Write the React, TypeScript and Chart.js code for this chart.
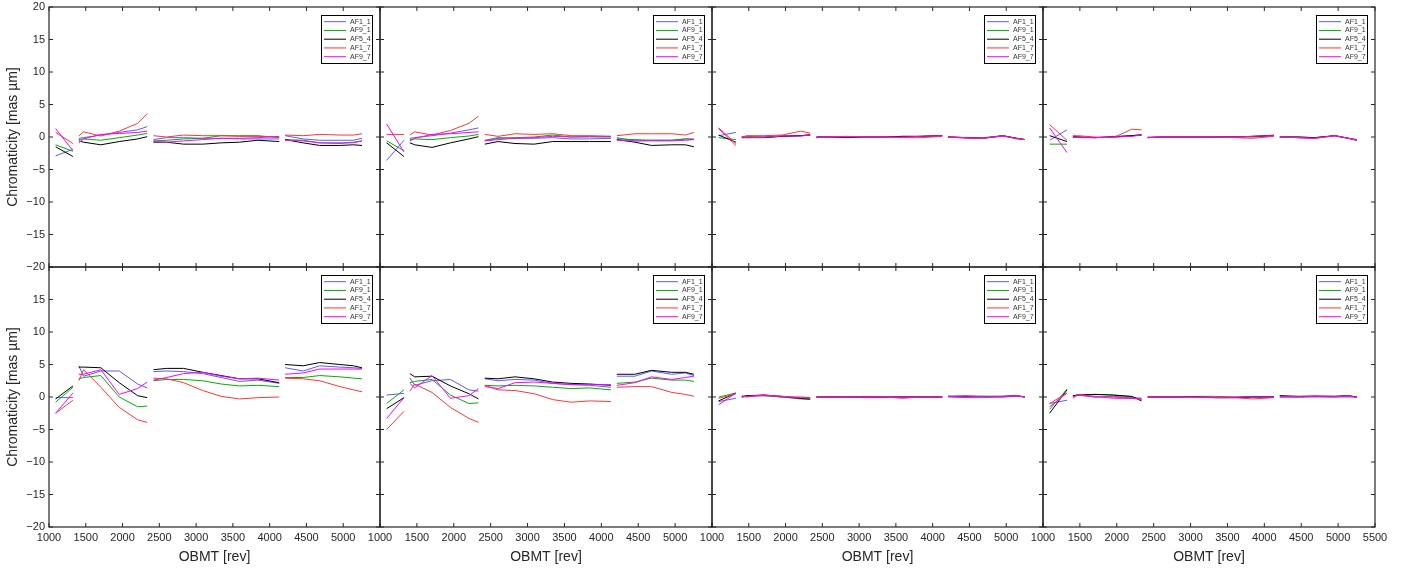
import { useEffect, useRef } from "react";
import Chart from "chart.js/auto";

// OBMT sample positions, with a gap marker between the four observation blocks (y = null there)
const OBMT = [1090, 1325, 1362, 1405, 1470, 1705, 1955, 2205, 2335, 2378, 2420, 2600, 2830, 3090, 3340, 3590, 3840, 4130, 4170, 4210, 4455, 4680, 4955, 5140, 5255];

const SERIES = ["AF1_1", "AF9_1", "AF5_4", "AF1_7", "AF9_7"];
const COLORS = ["#5a5aff", "#00b000", "#000000", "#ff3535", "#ff00ff"];

// top row
const p1_af1_1 = [-2.9, -1.9, null, -0.2, -0.1, 0.3, 0.7, 1.1, 1.6, null, -0.4, -0.1, -0.1, -0.2, -0.2, -0.3, -0.3, -0.3, null, 0.2, -0.3, -0.5, -0.5, -0.5, -0.2];
const p1_af9_1 = [-1.2, -2.2, null, -0.4, -0.3, -0.5, -0.1, 0.3, 0.55, null, -0.6, -0.5, -0.3, -0.2, 0.2, 0.2, 0.2, -0.1, null, -0.4, -0.5, -0.9, -1.0, -0.8, -0.6];
const p1_af5_4 = [-1.5, -3.0, null, -0.6, -0.8, -1.2, -0.7, -0.3, 0.05, null, -0.8, -0.8, -1.1, -1.1, -0.9, -0.8, -0.5, -0.7, null, -0.4, -0.9, -1.3, -1.3, -1.2, -1.3];
const p1_af1_7 = [0.7, -1.0, null, 0.15, 0.8, 0.15, 0.9, 2.1, 3.6, null, 0.2, 0.0, 0.3, 0.2, 0.2, 0.1, 0.1, 0.0, null, 0.3, 0.2, 0.4, 0.3, 0.3, 0.5];
const p1_af9_7 = [1.3, -2.1, null, -0.9, -0.3, 0.4, 0.55, 0.7, 0.9, null, -0.7, -0.8, -0.6, -0.4, -0.2, -0.2, -0.1, 0.1, null, -0.5, -0.6, -0.9, -0.9, -0.9, -0.6];

const p2_af1_1 = [-3.6, -0.5, null, -0.2, -0.1, 0.2, 0.6, 1.1, 1.4, null, -0.5, -0.1, -0.2, -0.2, -0.1, -0.3, -0.3, -0.2, null, -0.1, -0.6, -0.5, -0.5, -0.3, -0.4];
const p2_af9_1 = [-0.6, -2.1, null, -0.4, -0.3, -0.4, -0.1, 0.15, 0.4, null, -0.6, -0.2, -0.1, 0.0, 0.3, 0.0, 0.0, 0.0, null, -0.3, -0.4, -0.5, -0.5, -0.3, -0.3];
const p2_af5_4 = [-0.9, -3.0, null, -0.9, -1.2, -1.6, -0.9, -0.3, 0.05, null, -1.1, -0.7, -1.0, -1.1, -0.7, -0.7, -0.7, -0.7, null, -0.4, -0.8, -1.3, -1.2, -1.2, -1.5];
const p2_af1_7 = [0.4, 0.4, null, 0.3, 0.8, 0.3, 1.0, 2.1, 3.2, null, 0.4, 0.1, 0.5, 0.4, 0.5, 0.2, 0.2, 0.1, null, 0.2, 0.5, 0.5, 0.5, 0.3, 0.7];
const p2_af9_7 = [2.0, -2.3, null, -0.6, -0.2, 0.4, 0.5, 0.7, 0.8, null, -0.6, -0.4, -0.2, -0.1, 0.1, 0.0, 0.1, 0.1, null, -0.5, -0.6, -0.6, -0.6, -0.5, -0.4];

const p3_af1_1 = [0.2, 0.7, null, 0.0, 0.0, 0.0, 0.2, 0.2, 0.4, null, 0.0, 0.0, 0.0, 0.0, 0.0, 0.1, 0.1, 0.2, null, 0.0, -0.1, -0.2, 0.15, -0.2, -0.4];
const p3_af9_1 = [-0.1, -0.4, null, 0.0, 0.1, 0.0, 0.1, 0.2, 0.3, null, -0.1, 0.0, 0.0, 0.0, 0.0, 0.0, 0.1, 0.2, null, 0.0, -0.1, -0.1, 0.2, -0.2, -0.4];
const p3_af5_4 = [0.3, -0.8, null, -0.1, -0.1, -0.1, 0.1, 0.2, 0.3, null, 0.0, 0.0, -0.1, 0.0, 0.0, 0.1, 0.1, 0.2, null, 0.0, -0.1, -0.2, 0.2, -0.2, -0.4];
const p3_af1_7 = [1.4, -1.0, null, 0.0, 0.2, 0.2, 0.3, 0.9, 0.6, null, -0.1, 0.0, 0.1, 0.0, 0.0, -0.1, -0.1, 0.1, null, 0.0, -0.2, -0.2, 0.2, -0.3, -0.4];
const p3_af9_7 = [1.3, -1.3, null, 0.0, -0.1, -0.05, 0.15, 0.15, 0.3, null, -0.1, 0.0, 0.0, 0.0, 0.0, 0.0, 0.1, 0.2, null, 0.0, -0.1, -0.2, 0.15, -0.2, -0.4];

const p4_af1_1 = [-0.5, 1.1, null, 0.1, 0.0, -0.1, 0.1, 0.2, 0.4, null, -0.1, 0.0, 0.0, 0.0, 0.0, 0.0, 0.1, 0.3, null, 0.0, -0.1, -0.2, 0.2, -0.2, -0.5];
const p4_af9_1 = [-1.1, -1.1, null, 0.0, -0.05, -0.1, 0.0, 0.2, 0.3, null, -0.1, 0.0, 0.0, 0.0, 0.0, 0.0, 0.0, 0.2, null, 0.0, 0.0, -0.1, 0.2, -0.2, -0.4];
const p4_af5_4 = [0.2, -0.7, null, 0.0, 0.0, -0.1, 0.0, 0.2, 0.3, null, -0.1, 0.0, 0.0, 0.0, 0.0, 0.0, 0.1, 0.2, null, 0.0, 0.0, -0.1, 0.2, -0.2, -0.5];
const p4_af1_7 = [1.9, -0.5, null, 0.2, 0.2, 0.0, -0.1, 1.2, 1.1, null, 0.0, 0.0, 0.0, 0.0, 0.0, -0.1, -0.2, 0.1, null, 0.0, -0.1, -0.2, 0.2, -0.2, -0.4];
const p4_af9_7 = [1.4, -2.4, null, 0.0, -0.1, -0.1, 0.0, 0.1, 0.3, null, -0.1, 0.0, 0.0, 0.0, 0.0, 0.0, 0.1, 0.2, null, 0.0, -0.1, -0.2, 0.2, -0.2, -0.5];

// bottom row
const p5_af1_1 = [-0.1, -0.1, null, 4.8, 3.2, 4.0, 4.0, 2.0, 1.4, null, 3.9, 4.0, 3.9, 3.6, 3.0, 2.4, 2.6, 2.1, null, 4.5, 4.0, 4.8, 4.6, 4.5, 4.4];
const p5_af9_1 = [-0.8, 1.5, null, 2.8, 3.0, 3.3, 0.0, -1.5, -1.4, null, 2.5, 2.7, 2.7, 2.5, 2.0, 1.7, 1.8, 1.6, null, 3.0, 3.0, 3.3, 3.1, 2.9, 2.8];
const p5_af5_4 = [-0.3, 1.7, null, 4.6, 4.6, 4.5, 2.2, 0.2, -0.1, null, 4.2, 4.4, 4.4, 3.8, 3.3, 2.8, 2.8, 2.2, null, 5.0, 4.8, 5.3, 5.0, 4.8, 4.5];
const p5_af1_7 = [-2.5, -0.5, null, 2.5, 4.2, 1.5, -1.6, -3.5, -3.9, null, 2.9, 2.8, 2.2, 1.0, 0.1, -0.3, -0.1, 0.0, null, 2.9, 2.8, 2.5, 1.6, 1.1, 0.8];
const p5_af9_7 = [-2.5, 0.6, null, 3.5, 3.5, 4.2, 0.4, 1.3, 2.3, null, 2.6, 3.0, 3.6, 3.8, 3.2, 2.8, 2.9, 2.6, null, 3.5, 3.7, 4.3, 4.3, 4.3, 4.3];

const p6_af1_1 = [0.3, 0.55, null, 2.9, 1.8, 2.5, 2.7, 1.1, 0.9, null, 2.8, 2.5, 2.7, 2.6, 2.1, 1.9, 1.8, 1.5, null, 3.2, 3.2, 4.0, 3.5, 3.7, 3.3];
const p6_af9_1 = [-1.0, 1.1, null, 2.2, 2.4, 2.7, 0.3, -1.0, -0.9, null, 1.8, 1.7, 1.8, 1.7, 1.5, 1.3, 1.4, 1.1, null, 2.1, 2.3, 2.9, 2.6, 2.6, 2.4];
const p6_af5_4 = [-1.8, -0.1, null, 3.6, 3.1, 3.2, 1.7, 0.5, -0.3, null, 2.9, 2.8, 3.1, 2.8, 2.3, 2.1, 2.0, 1.8, null, 3.5, 3.5, 4.1, 3.8, 3.8, 3.5];
const p6_af1_7 = [-5.0, -2.2, null, 0.9, 2.0, 0.7, -1.6, -3.3, -3.9, null, 1.8, 1.1, 1.0, 0.5, -0.4, -0.8, -0.6, -0.7, null, 1.5, 1.6, 1.6, 0.7, 0.4, 0.1];
const p6_af9_7 = [-3.3, -0.1, null, 2.1, 1.4, 3.3, -0.2, 0.2, 1.3, null, 1.6, 1.3, 2.2, 2.3, 2.1, 1.9, 1.9, 1.9, null, 1.8, 2.2, 3.1, 2.7, 3.0, 3.2];

const p7_af1_1 = [-0.7, -0.2, null, 0.0, 0.1, 0.2, 0.0, -0.2, -0.2, null, 0.0, 0.0, 0.0, -0.1, -0.1, 0.0, 0.0, 0.0, null, 0.0, -0.1, -0.1, 0.0, 0.1, 0.0];
const p7_af9_1 = [0.0, 0.6, null, 0.1, 0.2, 0.2, 0.0, -0.3, -0.4, null, 0.0, 0.0, 0.0, 0.1, 0.0, 0.0, 0.0, 0.0, null, 0.1, 0.1, 0.0, 0.1, 0.2, 0.0];
const p7_af5_4 = [-0.6, 0.6, null, 0.0, 0.2, 0.3, 0.1, -0.2, -0.3, null, 0.0, 0.0, 0.0, 0.0, 0.0, 0.0, 0.0, 0.0, null, 0.1, 0.1, 0.1, 0.1, 0.2, 0.0];
const p7_af1_7 = [-0.2, 0.5, null, 0.2, 0.0, 0.3, 0.1, -0.1, -0.2, null, 0.0, 0.0, 0.0, 0.0, 0.0, -0.2, 0.0, 0.0, null, 0.1, 0.2, 0.1, 0.1, 0.2, 0.0];
const p7_af9_7 = [-1.2, 0.6, null, 0.0, 0.1, 0.3, 0.0, 0.0, -0.1, null, 0.0, 0.0, 0.0, 0.0, 0.0, 0.0, 0.0, 0.0, null, 0.1, 0.0, 0.1, 0.0, 0.2, 0.0];

const p8_af1_1 = [-1.0, -0.5, null, 0.1, 0.3, 0.0, 0.1, -0.1, -0.2, null, 0.0, 0.0, 0.0, 0.0, -0.1, -0.1, 0.1, 0.0, null, 0.0, 0.0, 0.0, 0.0, 0.0, 0.0];
const p8_af9_1 = [-1.9, 1.2, null, 0.2, 0.3, 0.4, 0.3, 0.0, -0.4, null, 0.0, 0.0, 0.0, 0.1, 0.1, 0.0, 0.0, 0.0, null, 0.2, 0.0, 0.1, 0.1, 0.2, 0.0];
const p8_af5_4 = [-2.5, 1.1, null, 0.2, 0.3, 0.4, 0.3, 0.1, -0.6, null, 0.0, 0.0, 0.0, 0.0, -0.1, -0.1, 0.0, 0.0, null, 0.2, 0.1, 0.1, 0.1, 0.2, 0.0];
const p8_af1_7 = [-1.0, 0.6, null, -0.2, 0.3, 0.0, 0.0, -0.2, -0.4, null, 0.0, 0.0, 0.0, -0.1, -0.1, -0.1, -0.3, -0.1, null, 0.1, 0.1, 0.2, 0.1, 0.1, 0.0];
const p8_af9_7 = [-1.5, 0.6, null, 0.0, 0.4, 0.1, -0.2, -0.2, -0.2, null, 0.0, 0.0, 0.0, 0.0, 0.0, 0.0, 0.0, 0.0, null, 0.0, 0.0, 0.1, 0.0, 0.2, -0.1];

const PANELS = [
  [p1_af1_1, p1_af9_1, p1_af5_4, p1_af1_7, p1_af9_7],
  [p2_af1_1, p2_af9_1, p2_af5_4, p2_af1_7, p2_af9_7],
  [p3_af1_1, p3_af9_1, p3_af5_4, p3_af1_7, p3_af9_7],
  [p4_af1_1, p4_af9_1, p4_af5_4, p4_af1_7, p4_af9_7],
  [p5_af1_1, p5_af9_1, p5_af5_4, p5_af1_7, p5_af9_7],
  [p6_af1_1, p6_af9_1, p6_af5_4, p6_af1_7, p6_af9_7],
  [p7_af1_1, p7_af9_1, p7_af5_4, p7_af1_7, p7_af9_7],
  [p8_af1_1, p8_af9_1, p8_af5_4, p8_af1_7, p8_af9_7],
];

const COL_EDGES = [49, 380, 712, 1043, 1375];
const ROW_TOPS = [7, 267];
const FONT = "'Liberation Sans', Arial, Helvetica, sans-serif";
const INK = "#262626";

// box, inward ticks on all four sides, and the small legend in the upper right
const framePlugin = {
  id: "frame",
  afterDatasetsDraw(chart: any) {
    const { ctx, chartArea: a, scales } = chart;
    ctx.save();
    ctx.strokeStyle = INK;
    ctx.lineWidth = 1.2;
    ctx.strokeRect(a.left, a.top, a.right - a.left, a.bottom - a.top);
    ctx.lineWidth = 1;
    const tl = 4;
    ctx.beginPath();
    scales.x.ticks.forEach((t: any) => {
      const px = scales.x.getPixelForValue(t.value);
      ctx.moveTo(px, a.bottom);
      ctx.lineTo(px, a.bottom - tl);
      ctx.moveTo(px, a.top);
      ctx.lineTo(px, a.top + tl);
    });
    scales.y.ticks.forEach((t: any) => {
      const py = scales.y.getPixelForValue(t.value);
      ctx.moveTo(a.left, py);
      ctx.lineTo(a.left + tl, py);
      ctx.moveTo(a.right, py);
      ctx.lineTo(a.right - tl, py);
    });
    ctx.stroke();

    // legend
    const bx = a.right - 59;
    const by = a.top + 8;
    ctx.fillStyle = "#fff";
    ctx.fillRect(bx, by, 51, 48);
    ctx.strokeStyle = "#000";
    ctx.strokeRect(bx + 0.5, by + 0.5, 51, 48);
    ctx.font = `7px ${FONT}`;
    ctx.textBaseline = "middle";
    chart.data.datasets.forEach((ds: any, i: number) => {
      const ly = by + 6.7 + i * 8.75;
      ctx.strokeStyle = ds.borderColor;
      ctx.beginPath();
      ctx.moveTo(bx + 3, ly);
      ctx.lineTo(bx + 25, ly);
      ctx.stroke();
      ctx.fillStyle = "#333";
      ctx.fillText(ds.label, bx + 29, ly);
    });
    ctx.restore();
  },
};

function Panel({ index }: { index: number }) {
  const canvasRef = useRef<HTMLCanvasElement>(null);
  const col = index % 4;
  const row = Math.floor(index / 4);
  const plotW = COL_EDGES[col + 1] - COL_EDGES[col];
  const left = COL_EDGES[col] - 49;
  const top = ROW_TOPS[row] - 7;
  const width = 49 + plotW + 20;
  const height = row ? 311 : 277;

  useEffect(() => {
    if (!canvasRef.current) return;
    const values = PANELS[index];
    const chart = new Chart(canvasRef.current, {
      type: "line",
      data: {
        datasets: SERIES.map((name, i) => ({
          label: name,
          data: OBMT.map((x, j) => ({ x, y: values[i][j] })),
          borderColor: COLORS[i],
          backgroundColor: COLORS[i],
          borderWidth: 1,
          pointRadius: 0,
          spanGaps: false,
          tension: 0,
          fill: false,
          order: SERIES.length - i,
        })),
      },
      options: {
        animation: false,
        responsive: true,
        maintainAspectRatio: false,
        events: [],
        layout: { padding: { left: 0, right: 20, top: 7, bottom: row ? 0 : 10 } },
        plugins: { legend: { display: false }, tooltip: { enabled: false } },
        scales: {
          x: {
            type: "linear",
            min: 1000,
            max: 5500,
            grid: { display: false, drawTicks: false },
            border: { display: false },
            ticks: {
              display: row === 1,
              stepSize: 500,
              autoSkip: false,
              maxRotation: 0,
              padding: 4,
              color: INK,
              font: { family: FONT, size: 11 },
              callback: (v: any) => (col < 3 && v === 5500 ? "" : String(v)),
            },
            title: {
              display: row === 1,
              text: "OBMT [rev]",
              color: INK,
              font: { family: FONT, size: 14 },
              padding: { top: 0, bottom: 5 },
            },
            afterFit: (s: any) => {
              s.height = row ? 44 : 0;
              s.paddingLeft = 0;
              s.paddingRight = 0;
            },
          },
          y: {
            min: -20,
            max: 20,
            grid: { display: false, drawTicks: false },
            border: { display: false },
            ticks: {
              display: col === 0,
              stepSize: 5,
              padding: 4,
              color: INK,
              font: { family: FONT, size: 11 },
              callback: (v: any) => (row === 1 && v === 20 ? "" : String(v).replace("-", "\u2212")),
            },
            title: {
              display: col === 0,
              text: "Chromaticity [mas µm]",
              color: INK,
              font: { family: FONT, size: 14 },
              padding: { top: 5, bottom: 0 },
            },
            afterFit: (s: any) => {
              s.width = 49;
              s.paddingTop = 0;
              s.paddingBottom = 0;
            },
          },
        },
      },
      plugins: [framePlugin],
    } as any);
    return () => chart.destroy();
  }, [index]);

  return (
    <div style={{ position: "absolute", left, top, width, height }}>
      <canvas ref={canvasRef}></canvas>
    </div>
  );
}

export default function App() {
  return (
    <div style={{ position: "absolute", left: 0, top: 0, width: 1419, height: 571, background: "#fff", overflow: "hidden" }}>
      {PANELS.map((_, i) => (
        <Panel key={i} index={i} />
      ))}
    </div>
  );
}
